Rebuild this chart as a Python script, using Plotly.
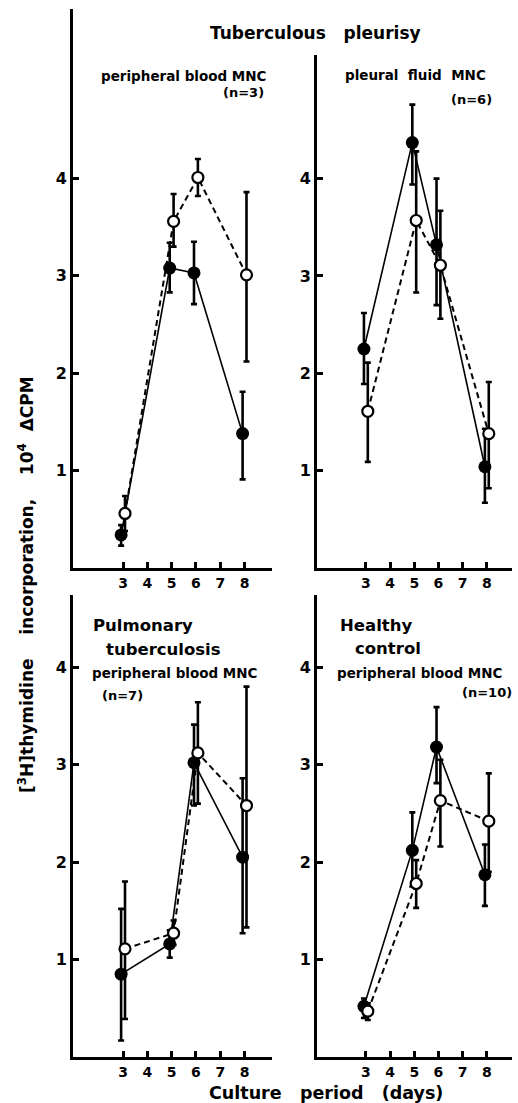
import plotly.graph_objects as go

# ---------------- data ----------------
days = [3, 5, 6, 8]
x_ticks = [3, 4, 5, 6, 7, 8]
y_ticks = [1, 2, 3, 4]

# Tuberculous pleurisy - peripheral blood MNC (n=3)
tp_pb_filled = [0.34, 3.08, 3.03, 1.38]
tp_pb_filled_hi = [0.44, 3.34, 3.35, 1.81]
tp_pb_filled_lo = [0.23, 2.83, 2.71, 0.91]
tp_pb_open = [0.56, 3.56, 4.01, 3.01]
tp_pb_open_hi = [0.74, 3.84, 4.20, 3.86]
tp_pb_open_lo = [0.38, 3.30, 3.82, 2.12]

# Tuberculous pleurisy - pleural fluid MNC (n=6)
tp_pf_filled = [2.25, 4.37, 3.32, 1.04]
tp_pf_filled_hi = [2.62, 4.76, 4.00, 1.43]
tp_pf_filled_lo = [1.89, 3.94, 2.70, 0.67]
tp_pf_open = [1.61, 3.57, 3.11, 1.38]
tp_pf_open_hi = [2.11, 4.28, 3.67, 1.91]
tp_pf_open_lo = [1.09, 2.83, 2.56, 0.82]

# Pulmonary tuberculosis - peripheral blood MNC (n=7)
pt_filled = [0.85, 1.16, 3.02, 2.05]
pt_filled_hi = [1.52, 1.30, 3.41, 2.86]
pt_filled_lo = [0.17, 1.02, 2.58, 1.27]
pt_open = [1.11, 1.27, 3.12, 2.58]
pt_open_hi = [1.80, 1.40, 3.64, 3.80]
pt_open_lo = [0.39, 1.15, 2.60, 1.33]

# Healthy control - peripheral blood MNC (n=10)
hc_filled = [0.52, 2.12, 3.18, 1.87]
hc_filled_hi = [0.60, 2.51, 3.59, 2.18]
hc_filled_lo = [0.40, 1.75, 2.81, 1.55]
hc_open = [0.47, 1.78, 2.63, 2.42]
hc_open_hi = [0.55, 2.02, 3.05, 2.91]
hc_open_lo = [0.38, 1.53, 2.16, 1.90]

# ---------------- layout helpers ----------------
W, H = 518, 1103
FONT = "DejaVu Sans"
NB = "\u00a0"


def px_x(p):
    return p / W


def px_y(p):
    return 1 - p / H


panels = [
    (tp_pb_filled, tp_pb_filled_hi, tp_pb_filled_lo, tp_pb_open, tp_pb_open_hi, tp_pb_open_lo,
     (73, 272), (568, 9), 5.74),
    (tp_pf_filled, tp_pf_filled_hi, tp_pf_filled_lo, tp_pf_open, tp_pf_open_hi, tp_pf_open_lo,
     (317, 512), (568, 55), 5.27),
    (pt_filled, pt_filled_hi, pt_filled_lo, pt_open, pt_open_hi, pt_open_lo,
     (73, 272), (1057, 595), 4.74),
    (hc_filled, hc_filled_hi, hc_filled_lo, hc_open, hc_open_hi, hc_open_lo,
     (317, 512), (1057, 595), 4.74),
]

fig = go.Figure()
layout = {}
OFF = 0.08

for i, (f, fh, fl, o, oh, ol, xd, yd, ytop) in enumerate(panels, start=1):
    xa = "x" if i == 1 else f"x{i}"
    ya = "y" if i == 1 else f"y{i}"
    xs_f = [d - OFF for d in days]
    xs_o = [d + OFF for d in days]
    fig.add_trace(go.Scatter(
        x=xs_f, y=f, xaxis=xa, yaxis=ya, mode="lines+markers",
        line=dict(color="black", width=1.6),
        marker=dict(symbol="circle", size=13, color="black"),
        error_y=dict(type="data", symmetric=False,
                     array=[h - m for h, m in zip(fh, f)],
                     arrayminus=[m - l for m, l in zip(f, fl)],
                     thickness=2.6, width=3, color="black"),
        showlegend=False, cliponaxis=False))
    fig.add_trace(go.Scatter(
        x=xs_o, y=o, xaxis=xa, yaxis=ya, mode="lines+markers",
        line=dict(color="black", width=2, dash="6px,4px"),
        marker=dict(symbol="circle", size=11, color="white",
                    line=dict(color="black", width=2.2)),
        error_y=dict(type="data", symmetric=False,
                     array=[h - m for h, m in zip(oh, o)],
                     arrayminus=[m - l for m, l in zip(o, ol)],
                     thickness=2.6, width=3, color="black"),
        showlegend=False, cliponaxis=False))

    key_x = "xaxis" if i == 1 else f"xaxis{i}"
    key_y = "yaxis" if i == 1 else f"yaxis{i}"
    xr = [0.94, 9.13] if xd[0] == 73 else [0.98, 9.04]
    layout[key_x] = dict(
        domain=[px_x(xd[0]), px_x(xd[1])], anchor=ya, range=xr,
        showgrid=False, zeroline=False, showline=True, linecolor="black", linewidth=3,
        ticks="inside", ticklen=6, tickwidth=2.5, tickcolor="black",
        tickvals=x_ticks, ticktext=[str(v) for v in x_ticks],
        tickfont=dict(family=FONT, size=14, color="black", weight="bold"))
    layout[key_y] = dict(
        domain=[px_y(yd[0]), px_y(yd[1])], anchor=xa, range=[0, ytop],
        showgrid=False, zeroline=False, showline=True, linecolor="black", linewidth=3,
        ticks="inside", ticklen=6, tickwidth=2.5, tickcolor="black",
        tickvals=y_ticks, ticktext=[str(v) for v in y_ticks],
        tickfont=dict(family=FONT, size=16, color="black", weight="bold"))


def note(text, xc, yc, size, anchor="center"):
    return dict(text=text, x=px_x(xc), y=px_y(yc), xref="paper", yref="paper",
                xanchor=anchor, yanchor="middle", showarrow=False,
                font=dict(family=FONT, size=size, color="black", weight="bold"))


annotations = [
    note(f"Tuberculous{NB}{NB}{NB}pleurisy", 315, 33, 17),
    note("peripheral blood MNC", 99, 76, 13.5, "left"),
    note("(n=3)", 266, 93, 13, "right"),
    note(f"pleural{NB}{NB}fluid{NB}{NB}MNC", 343, 75, 13.5, "left"),
    note("(n=6)", 494, 99, 13, "right"),
    note("Pulmonary", 91, 625, 16.5, "left"),
    note("tuberculosis", 104, 649, 16.5, "left"),
    note("peripheral blood MNC", 90, 673, 13.5, "left"),
    note("(n=7)", 100, 695, 13, "left"),
    note("Healthy", 338, 625, 16.5, "left"),
    note("control", 353, 648, 16.5, "left"),
    note("peripheral blood MNC", 335, 673, 13.5, "left"),
    note("(n=10)", 514, 692, 13, "right"),
    note(f"Culture{NB}{NB}{NB}period{NB}{NB}{NB}(days)", 326, 1093, 17.5),
]
yt = dict(text=f"[<sup>3</sup>H]thymidine{NB}{NB}{NB}{NB}incorporation,{NB}{NB}{NB}{NB}10<sup>4</sup>{NB}{NB}\u0394CPM",
          x=px_x(26), y=px_y(585), xref="paper", yref="paper", xanchor="center", yanchor="middle",
          textangle=-90, showarrow=False,
          font=dict(family=FONT, size=17, color="black", weight="bold"))
annotations.append(yt)

fig.update_layout(
    width=W, height=H, margin=dict(l=0, r=0, t=0, b=0),
    paper_bgcolor="white", plot_bgcolor="white",
    annotations=annotations, showlegend=False, **layout)

fig.write_html("out.html")
